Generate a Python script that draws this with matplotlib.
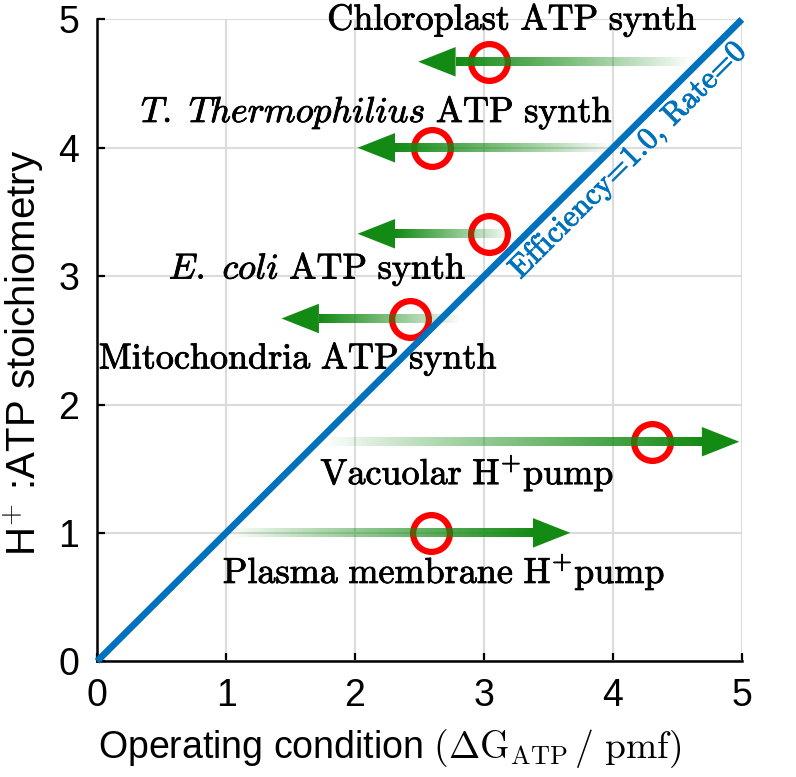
import numpy as np
import matplotlib
matplotlib.use("Agg")
import matplotlib.pyplot as plt
import matplotlib.patheffects as pe
from matplotlib.colors import to_rgba

plt.rcParams["font.family"] = ["Liberation Sans", "DejaVu Sans"]
plt.rcParams["mathtext.fontset"] = "cm"

# ---- data ----
labels = [r"$\mathrm{Chloroplast\ ATP\ synth}$",
          r"$\mathit{T.\ Thermophilius}\ \mathrm{ATP\ synth}$",
          r"$\mathit{E.\ coli}\ \mathrm{ATP\ synth}$",
          r"$\mathrm{Mitochondria\ ATP\ synth}$",
          r"$\mathrm{Vacuolar\ H^{+}pump}$",
          r"$\mathrm{Plasma\ membrane\ H^{+}pump}$"]
label_x = [3.22, 2.17, 1.71, 1.56, 2.87, 2.69]
label_y = [4.92, 4.20, 2.98, 2.28, 1.38, 0.61]   # baselines
point_x = [3.04, 2.60, 3.04, 2.43, 4.30, 2.59]
point_y = [4.67, 4.00, 3.33, 2.67, 1.71, 1.00]
arrow_tail = [4.60, 3.98, 3.20, 2.81, 1.77, 1.03]
arrow_tip = [2.49, 2.02, 2.02, 1.43, 4.98, 3.67]
diag = [0, 5]

GREEN = "#138a13"
BLUE = "#0072BD"

fig = plt.figure(figsize=(7.96, 7.77), dpi=100)
ax = fig.add_axes([0.122, 0.149, 0.81, 0.826])
ax.grid(True, color="#dcdcdc", lw=1.5, zorder=0)
ax.set_axisbelow(True)
for s in ("top", "right"):
    ax.spines[s].set_visible(False)
for s in ("left", "bottom"):
    ax.spines[s].set_linewidth(1.8)
ax.tick_params(direction="in", length=6, width=1.6, labelsize=27)
ax.tick_params(axis="y", pad=13)
ax.tick_params(axis="x", pad=12)

# red circles
ax.plot(point_x, point_y, "o", ms=26.5, mfc="none", mec="red", mew=4.5, zorder=3)

# gradient arrows (shaft fades in from the tail)
hl, hw, sw = 0.29, 0.23, 0.07
for x0, x1, y in zip(arrow_tail, arrow_tip, point_y):
    d = np.sign(x1 - x0)
    base = x1 - d * hl
    rgba = np.zeros((1, 200, 4))
    rgba[..., :3] = to_rgba(GREEN)[:3]
    rgba[0, :, 3] = np.linspace(0, 1, 200) ** 0.9
    if d < 0:
        rgba = rgba[:, ::-1]
    lo, hi = min(x0, base), max(x0, base)
    ax.imshow(rgba, extent=(lo, hi, y - sw / 2, y + sw / 2), aspect="auto",
              interpolation="bilinear", zorder=4)
    ax.fill([base, x1, base], [y - hw / 2, y, y + hw / 2], color=GREEN, lw=0, zorder=4)

stroke = [pe.withStroke(linewidth=0.6, foreground="black")]
for t, x, y in zip(labels, label_x, label_y):
    ax.text(x, y, t, ha="center", va="baseline", fontsize=26, zorder=5,
            path_effects=stroke)

# efficiency line
ax.plot(diag, diag, color=BLUE, lw=4.8, zorder=6, clip_on=False, solid_capstyle="butt")
ax.text(4.12, 3.90, "Efficiency=1.0, Rate=0", family="cmr10", color=BLUE, fontsize=22.5,
        rotation=45, ha="center", va="center", rotation_mode="anchor", zorder=6,
        path_effects=[pe.withStroke(linewidth=0.7, foreground=BLUE)])

ax.set_xlim(0, 5); ax.set_ylim(0, 5)
ax.set_xticks(range(6)); ax.set_yticks(range(6))
ax.set_xlabel(r"Operating condition $(\Delta\mathrm{G}_{\mathrm{ATP}}\,/\ \mathrm{pmf})$",
              fontsize=27)
ax.set_ylabel(r"H$^{+}$ :ATP stoichiometry", fontsize=29)
ax.xaxis.set_label_coords(0.454, -0.103)
ax.yaxis.set_label_coords(-0.08, 0.48)

fig.savefig("out.png", dpi=100)
